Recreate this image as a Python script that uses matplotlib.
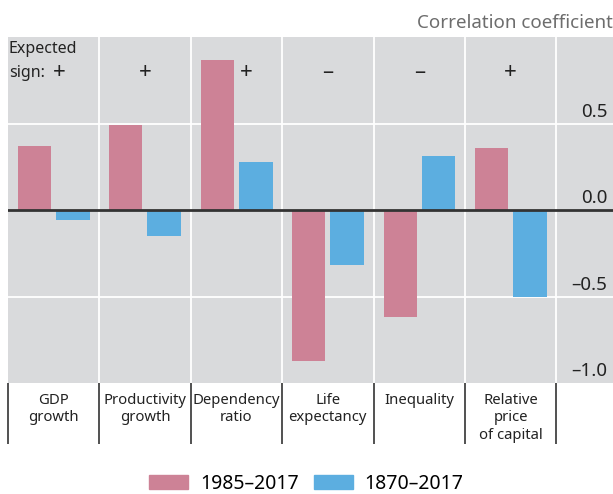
import matplotlib
matplotlib.use("Agg")
import matplotlib.pyplot as plt
from matplotlib.patches import Patch

plt.rcParams["font.family"] = ["Noto Sans", "DejaVu Sans"]

categories = ["GDP\ngrowth", "Productivity\ngrowth", "Dependency\nratio",
              "Life\nexpectancy", "Inequality", "Relative\nprice\nof capital"]
recent = [0.37, 0.49, 0.87, -0.87, -0.62, 0.36]      # 1985–2017
long_run = [-0.06, -0.15, 0.28, -0.32, 0.31, -0.50]  # 1870–2017
expected_sign = ["+", "+", "+", "–", "–", "+"]
sign_offset = [0.06, 0.0, 0.11, 0.0, 0.0, 0.0]
yticks = [0.5, 0.0, -0.5, -1.0]
ytick_labels = ["0.5", "0.0", "–0.5", "–1.0"]

PINK = "#cd8296"
BLUE = "#5caee0"
BG = "#d9dadc"
DARK = "#333333"
TXT = "#222222"

fig = plt.figure(figsize=(6.13, 4.94), dpi=100)
ax = fig.add_axes([0.013, 0.2247, 0.987, 0.7003])
ax.set_facecolor(BG)
ax.set_xlim(0, 6.62)
ax.set_ylim(-1.0, 1.0)

x = range(len(categories))
ax.bar([i + 0.29 for i in x], recent, width=0.36, color=PINK, zorder=2)
ax.bar([i + 0.71 for i in x], long_run, width=0.37, color=BLUE, zorder=2)

# grid
for v in yticks[:-1]:
    if v == 0:
        ax.axhline(0, color=DARK, lw=2, zorder=3)
    else:
        ax.axhline(v, color="white", lw=1.3, zorder=1)
for i in range(1, len(categories) + 1):
    ax.axvline(i, color="white", lw=1.3, zorder=1)

for s in ax.spines.values():
    s.set_visible(False)
ax.set_xticks([])
ax.set_yticks([])

# y labels sit above gridlines on the right
for v, lab in zip(yticks, ytick_labels):
    ax.text(6.56, v + 0.015, lab, ha="right", va="bottom", fontsize=13.5, color=TXT)

ax.text(1.0, 1.015, "Correlation coefficient", transform=ax.transAxes,
        ha="right", va="bottom", fontsize=13.5, color="#6d6d6d")

# expected signs
ax.text(0.01, 0.93, "Expected", ha="left", va="center", fontsize=11.5, color=TXT)
ax.text(0.01, 0.795, "sign:", ha="left", va="center", fontsize=11.5, color=TXT)
for i, (sg, off) in enumerate(zip(expected_sign, sign_offset)):
    ax.text(i + 0.5 + off, 0.795, sg, ha="center", va="center", fontsize=16, color=TXT)

# category separators and labels below the axis
xt = ax.get_xaxis_transform()
ax.vlines(range(len(categories) + 1), -0.175, 0, transform=xt, color=DARK,
          lw=1.2, clip_on=False)
for i, lab in enumerate(categories):
    ax.text(i + 0.5, -0.028, lab, transform=xt, ha="center", va="top",
            fontsize=10.7, color=TXT, linespacing=1.22)

handles = [Patch(color=PINK, label="1985–2017"), Patch(color=BLUE, label="1870–2017")]
fig.legend(handles=handles, loc="lower center", bbox_to_anchor=(0.5, -0.035), ncol=2,
           frameon=False, fontsize=14, handlelength=2.0, handleheight=0.8,
           handletextpad=0.6, columnspacing=0.8)

fig.savefig("out.png", dpi=100)
